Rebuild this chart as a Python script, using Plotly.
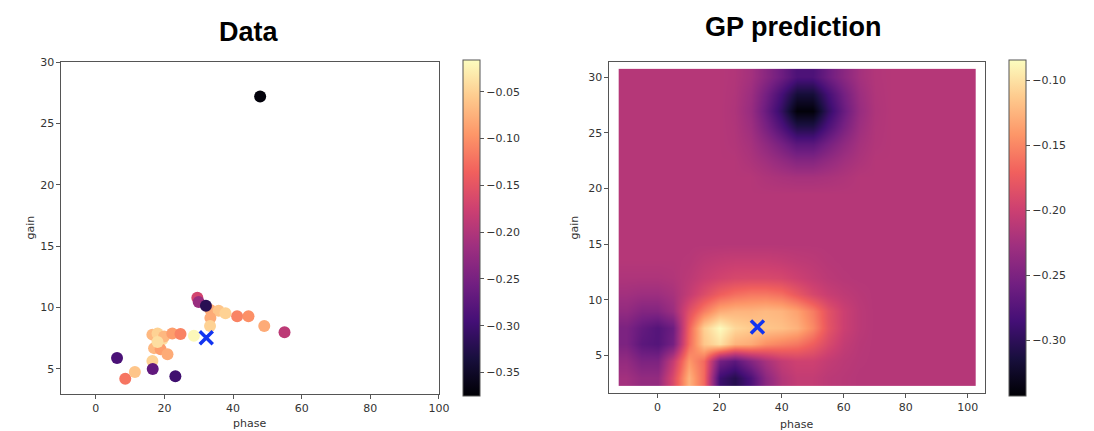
import plotly.graph_objects as go

# ---------------- Data panel: observed points ----------------
phase = [47.9, 6.2, 8.6, 11.4, 16.5, 16.6, 23.2, 16.5, 18.0, 19.4, 19.9, 22.3, 24.7,
         17.0, 18.9, 20.9, 18.0, 29.6, 30.0, 33.4, 35.8, 37.8, 33.4, 33.3, 41.2, 44.5,
         49.1, 55.0, 32.1, 28.6]
gain = [27.2, 5.9, 4.2, 4.75, 5.65, 5.0, 4.4, 7.8, 7.9, 7.4, 7.65, 7.9, 7.85,
        6.7, 6.6, 6.2, 7.2, 10.8, 10.45, 9.8, 9.75, 9.55, 9.15, 8.5, 9.3, 9.3,
        8.5, 8.0, 10.15, 7.7]
value = [-0.370, -0.290, -0.120, -0.060, -0.050, -0.270, -0.300, -0.070, -0.050, -0.040, -0.070, -0.090, -0.110,
         -0.070, -0.090, -0.080, -0.040, -0.170, -0.220, -0.080, -0.060, -0.050, -0.080, -0.050, -0.110, -0.100,
         -0.080, -0.190, -0.320, -0.020]

best_phase = [32.2]
best_gain = [7.55]

# ---------------- GP prediction grid ----------------
grid_phase = [-10, -5, 0, 5, 10, 15, 20, 25, 30, 35, 40, 45, 50, 55, 60, 65, 70, 75, 80, 85, 90, 95, 100]
grid_gain = [3, 4.5, 6, 7.5, 9, 10.5, 12, 13.5, 15, 16.5, 18, 19.5, 21, 22.5, 24, 25.5, 27, 28.5, 30]
B = -0.214
gp_row_03_0 = [-0.225, -0.235, -0.235, -0.190, -0.125, -0.165, -0.290, -0.305, -0.280, -0.240, -0.215, -0.205, -0.205, -0.210, -0.212, -0.214, B, B, B, B, B, B, B]
gp_row_04_5 = [-0.235, -0.250, -0.250, -0.205, -0.140, -0.165, -0.255, -0.270, -0.245, -0.222, -0.205, -0.198, -0.198, -0.205, -0.210, -0.213, B, B, B, B, B, B, B]
gp_row_06_0 = [-0.250, -0.270, -0.275, -0.255, -0.165, -0.115, -0.100, -0.125, -0.130, -0.145, -0.152, -0.158, -0.172, -0.190, -0.205, -0.212, B, B, B, B, B, B, B]
gp_row_07_5 = [-0.250, -0.265, -0.275, -0.260, -0.170, -0.110, -0.085, -0.105, -0.112, -0.115, -0.118, -0.126, -0.148, -0.180, -0.200, -0.210, B, B, B, B, B, B, B]
gp_row_09_0 = [-0.235, -0.245, -0.245, -0.230, -0.185, -0.155, -0.130, -0.125, -0.125, -0.122, -0.125, -0.135, -0.155, -0.182, -0.200, -0.210, B, B, B, B, B, B, B]
gp_row_10_5 = [-0.225, -0.228, -0.228, -0.222, -0.205, -0.188, -0.172, -0.163, -0.158, -0.158, -0.163, -0.177, -0.192, -0.202, -0.208, -0.212, B, B, B, B, B, B, B]
gp_row_12_0 = [-0.218, -0.218, -0.218, -0.216, -0.210, -0.202, -0.196, -0.192, -0.191, -0.191, -0.193, -0.199, -0.205, -0.210, -0.213, B, B, B, B, B, B, B, B]
gp_row_13_5 = [B, B, B, B, -0.213, -0.208, -0.205, -0.203, -0.203, -0.203, -0.205, -0.208, -0.210, -0.213, B, B, B, B, B, B, B, B, B]
gp_row_15_0 = [B] * 23
gp_row_16_5 = [B] * 23
gp_row_18_0 = [B] * 23
gp_row_19_5 = [B] * 23
gp_row_21_0 = [B, B, B, B, B, B, B, B, B, -0.218, -0.221, -0.223, -0.223, -0.221, -0.218, B, B, B, B, B, B, B, B]
gp_row_22_5 = [B, B, B, B, B, B, B, B, -0.219, -0.226, -0.235, -0.244, -0.244, -0.235, -0.226, -0.219, B, B, B, B, B, B, B]
gp_row_24_0 = [B, B, B, B, B, B, B, -0.216, -0.223, -0.237, -0.254, -0.271, -0.271, -0.254, -0.237, -0.223, -0.216, B, B, B, B, B, B]
gp_row_25_5 = [B, B, B, B, B, B, B, -0.217, -0.228, -0.252, -0.279, -0.308, -0.308, -0.279, -0.252, -0.228, -0.217, B, B, B, B, B, B]
gp_row_27_0 = [B, B, B, B, B, B, B, -0.218, -0.232, -0.262, -0.297, -0.340, -0.340, -0.297, -0.262, -0.232, -0.218, B, B, B, B, B, B]
gp_row_28_5 = [B, B, B, B, B, B, B, -0.217, -0.229, -0.255, -0.285, -0.316, -0.316, -0.285, -0.255, -0.229, -0.217, B, B, B, B, B, B]
gp_row_30_0 = [B, B, B, B, B, B, B, -0.216, -0.224, -0.241, -0.260, -0.280, -0.280, -0.260, -0.241, -0.224, -0.216, B, B, B, B, B, B]
gp_pred = [gp_row_03_0, gp_row_04_5, gp_row_06_0, gp_row_07_5, gp_row_09_0, gp_row_10_5,
           gp_row_12_0, gp_row_13_5, gp_row_15_0, gp_row_16_5, gp_row_18_0, gp_row_19_5,
           gp_row_21_0, gp_row_22_5, gp_row_24_0, gp_row_25_5, gp_row_27_0, gp_row_28_5, gp_row_30_0]

axis_ticks = [0, 20, 40, 60, 80, 100]
gain_ticks = [5, 10, 15, 20, 25, 30]
cbar1_ticks = [-0.35, -0.30, -0.25, -0.20, -0.15, -0.10, -0.05]
cbar2_ticks = [-0.30, -0.25, -0.20, -0.15, -0.10]

W, H = 1094, 431
FONT = "DejaVu Sans"
TXT = "#333333"
LINE = "#555555"


def fx(sx):
    return sx / W


def fy(sy):
    return 1 - sy / H


fig = go.Figure()
fig.add_trace(go.Scatter(
    x=phase, y=gain, mode="markers", xaxis="x", yaxis="y",
    marker=dict(size=12, color=value, coloraxis="coloraxis", line=dict(width=0)),
    showlegend=False, hoverinfo="skip"))
fig.add_trace(go.Scatter(
    x=best_phase, y=best_gain, mode="markers", xaxis="x", yaxis="y",
    marker=dict(symbol="x-thin", size=13, line=dict(width=3.5, color="#1234f0")),
    showlegend=False, hoverinfo="skip"))
fig.add_trace(go.Heatmap(
    x=grid_phase, y=grid_gain, z=gp_pred, zsmooth="best",
    coloraxis="coloraxis2", xaxis="x2", yaxis="y2", hoverinfo="skip"))
fig.add_trace(go.Scatter(
    x=best_phase, y=best_gain, mode="markers", xaxis="x2", yaxis="y2",
    marker=dict(symbol="x-thin", size=13, line=dict(width=3.5, color="#1234f0")),
    showlegend=False, hoverinfo="skip"))


def ax(**kw):
    d = dict(showline=True, mirror=True, linecolor=LINE, linewidth=1,
             ticks="outside", ticklen=4, tickcolor=LINE, showgrid=False,
             zeroline=False, tickfont=dict(family=FONT, size=11, color=TXT))
    d.update(kw)
    return d


def cbar(sx, ticks):
    return dict(x=fx(sx), xanchor="left", y=fy(225), yanchor="middle",
                len=336, lenmode="pixels", thickness=17, thicknessmode="pixels",
                xpad=0, ypad=0, outlinewidth=1, outlinecolor=LINE,
                ticks="outside", ticklen=4, tickcolor=LINE,
                tickvals=ticks, tickformat=".2f",
                tickfont=dict(family=FONT, size=11, color=TXT))


fig.update_layout(
    width=W, height=H, margin=dict(l=0, r=0, t=0, b=0),
    paper_bgcolor="white", plot_bgcolor="white",
    xaxis=ax(domain=[fx(62), fx(443)], range=[-10, 100], tickvals=axis_ticks, anchor="y"),
    yaxis=ax(domain=[fy(393), fy(57)], range=[3, 30], tickvals=gain_ticks, anchor="x"),
    xaxis2=ax(domain=[fx(615), fx(994)], range=[-15.5, 105.5], tickvals=axis_ticks, anchor="y2"),
    yaxis2=ax(domain=[fy(392), fy(57)], range=[1.65, 31.35], tickvals=gain_ticks, anchor="x2"),
    coloraxis=dict(colorscale="magma", cmin=-0.375, cmax=-0.016, colorbar=cbar(467, cbar1_ticks)),
    coloraxis2=dict(colorscale="magma", cmin=-0.343, cmax=-0.084, colorbar=cbar(1018, cbar2_ticks)),
)

ann = []
ann.append(dict(text="<b>Data</b>", x=fx(251), y=fy(26), xref="paper", yref="paper",
                showarrow=False, xanchor="center", yanchor="middle",
                font=dict(family="Liberation Sans", size=27, color="black")))
ann.append(dict(text="<b>GP prediction</b>", x=fx(801), y=fy(21), xref="paper", yref="paper",
                showarrow=False, xanchor="center", yanchor="middle",
                font=dict(family="Liberation Sans", size=27, color="black")))
for xc, yc in [(252, 423), (804, 424)]:
    ann.append(dict(text="phase", x=fx(xc), y=fy(yc), xref="paper", yref="paper",
                    showarrow=False, xanchor="center", yanchor="middle",
                    font=dict(family=FONT, size=11, color=TXT)))
for xc, yc in [(31, 225), (580, 225)]:
    ann.append(dict(text="gain", x=fx(xc), y=fy(yc), xref="paper", yref="paper",
                    showarrow=False, xanchor="center", yanchor="middle", textangle=-90,
                    font=dict(family=FONT, size=11, color=TXT)))
fig.update_layout(annotations=ann)

# Remove the page's default body margin so the figure fills the window exactly.
fig.write_html("out.html",
               config={"displayModeBar": False, "staticPlot": True},
               post_script="document.body.style.margin='0px';document.body.style.overflow='hidden';")
